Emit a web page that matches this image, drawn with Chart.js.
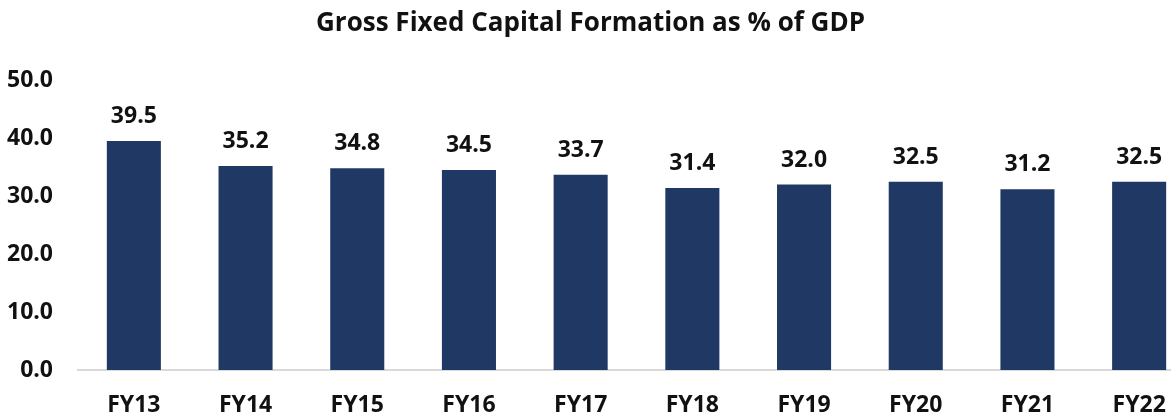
<!DOCTYPE html>
<html>
<head>
<meta charset="utf-8">
<script src="https://cdn.jsdelivr.net/npm/chart.js@4"></script>
<style>
  html, body { margin: 0; padding: 0; overflow: hidden; background: #fff; }
</style>
</head>
<body>
<canvas id="chart" width="1195" height="418"></canvas>
<script>
const ctx = document.getElementById('chart');

// data
const years = ["FY13", "FY14", "FY15", "FY16", "FY17", "FY18", "FY19", "FY20", "FY21", "FY22"];
const gfcfShare = [39.5, 35.2, 34.8, 34.5, 33.7, 31.4, 32.0, 32.5, 31.2, 32.5];
const yTicks = [0, 10, 20, 30, 40, 50];

const barColor = "#203864";
const textColor = "#111111";
const fontFamily = "'Open Sans', Lato, sans-serif";

// value labels above each bar
const barLabels = {
    id: 'barLabels',
    afterDatasetsDraw(chart) {
        const c = chart.ctx;
        const meta = chart.getDatasetMeta(0);
        c.save();
        c.font = "bold 23px " + fontFamily;
        c.fillStyle = textColor;
        c.textAlign = 'center';
        c.textBaseline = 'alphabetic';
        meta.data.forEach((bar, i) => {
            c.fillText(gfcfShare[i].toFixed(1), bar.x, bar.y - 18);
        });
        c.restore();
    }
};

const config = {
    type: "bar",
    data: {
        labels: years,
        datasets: [{
            label: "GFCF as % of GDP",
            data: gfcfShare,
            backgroundColor: barColor,
            borderWidth: 0,
            barPercentage: 0.484,
            categoryPercentage: 1
        }]
    },
    options: {
        responsive: false,
        animation: false,
        layout: { padding: { left: -14, right: 0, top: 0, bottom: 0 } },
        plugins: {
            legend: { display: false },
            tooltip: { enabled: false },
            title: {
                display: true,
                text: 'Gross Fixed Capital Formation as % of GDP',
                color: textColor,
                font: { family: fontFamily, size: 26, weight: 'bold' },
                padding: { top: 8, bottom: 41 }
            }
        },
        scales: {
            x: {
                afterFit: axis => { axis.height = 48; },
                grid: { display: false, drawTicks: false },
                border: { display: true, color: '#D9D9D9', width: 2 },
                ticks: {
                    color: textColor,
                    padding: 22,
                    font: { family: fontFamily, size: 23, weight: 'bold' }
                }
            },
            y: {
                min: 0,
                max: 50,
                afterBuildTicks: axis => { axis.ticks = yTicks.map(v => ({ value: v })); },
                afterFit: axis => { axis.width = 92; },
                grid: { display: false, drawTicks: false },
                border: { display: false },
                ticks: {
                    color: textColor,
                    padding: 25,
                    font: { family: fontFamily, size: 23, weight: 'bold' },
                    callback: v => v.toFixed(1)
                }
            }
        }
    },
    plugins: [barLabels]
};

new Chart(ctx, config);
</script>
</body>
</html>
